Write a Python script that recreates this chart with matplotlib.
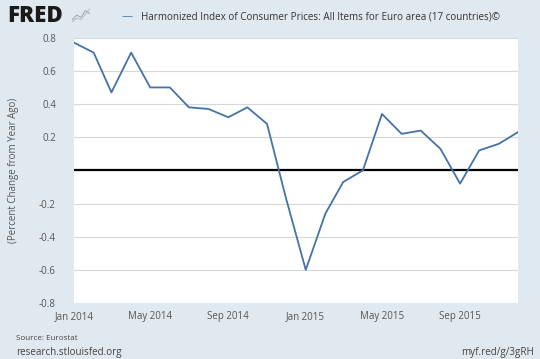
import matplotlib
matplotlib.use("Agg")
import matplotlib.pyplot as plt
import matplotlib.dates as mdates
import pandas as pd

# monthly HICP, percent change from year ago
months = pd.date_range("2014-01-01", "2015-12-01", freq="MS")
hicp = [0.77, 0.71, 0.47, 0.71, 0.50, 0.50, 0.38, 0.37, 0.32, 0.38, 0.28, -0.17,
        -0.60, -0.26, -0.07, 0.00, 0.34, 0.22, 0.24, 0.13, -0.08, 0.12, 0.16, 0.23]

yticks = [-0.8, -0.6, -0.4, -0.2, 0.2, 0.4, 0.6, 0.8]
xtick_months = pd.date_range("2014-01-01", "2015-09-01", freq="4MS")

BG = "#e1e9f0"
LINE = "#4572a7"
TXT = "#555555"

plt.rcParams["font.family"] = ["Open Sans", "DejaVu Sans"]

fig = plt.figure(figsize=(5.4, 3.59), dpi=100, facecolor=BG)
ax = fig.add_axes([0.137, 0.156, 0.822, 0.739])
ax.set_facecolor("white")

ax.plot(months, hicp, color=LINE, lw=1.3, zorder=3)
ax.axhline(0, color="black", lw=1.6, zorder=2)

ax.set_xlim(months[0], months[-1])
ax.set_ylim(-0.8, 0.8)
ax.set_yticks(yticks)
ax.set_yticklabels([f"{v:.1f}" for v in yticks])
ax.set_xticks(xtick_months)
ax.xaxis.set_major_formatter(mdates.DateFormatter("%b %Y"))
ax.grid(axis="y", color="#d8d8d8", lw=0.8)
ax.tick_params(length=0, labelsize=7, colors=TXT)
ax.tick_params(axis="y", pad=13)
ax.tick_params(axis="x", pad=6)
for s in ax.spines.values():
    s.set_visible(False)

ax.set_ylabel("(Percent Change from Year Ago)", fontsize=7, color=TXT, labelpad=14)

# header: logo and legend
fig.text(0.014, 0.955, "FRED", fontsize=16, fontweight="heavy", color="#1a1a1a",
         va="center", ha="left")
icon = fig.add_axes([0.134, 0.937, 0.032, 0.042])
icon.set_facecolor("#d6dde3")
icon.plot([0, 1, 2, 3, 4], [0.2, 0.5, 0.35, 0.8, 0.6], color="#9aa3ab", lw=0.7)
icon.plot([0, 1, 2, 3, 4], [0.05, 0.3, 0.2, 0.55, 0.9], color="#b4bcc3", lw=0.7)
icon.set_xlim(0, 4)
icon.set_ylim(0, 1)
icon.axis("off")
icon.patch.set_visible(True)

fig.text(0.225, 0.953, "\u2014", fontsize=8, color=LINE, va="center", ha="left")
fig.text(0.261, 0.953, "Harmonized Index of Consumer Prices: All Items for Euro area (17 countries)\u00a9",
         fontsize=7.15, color="#333333", va="center", ha="left")

# footer
fig.text(0.029, 0.058, "Source: Eurostat", fontsize=5.8, color="#444444", va="center")
fig.text(0.029, 0.019, "research.stlouisfed.org", fontsize=7.1, color="#444444", va="center")
fig.text(0.988, 0.019, "myf.red/g/3gRH", fontsize=7.1, color="#444444", va="center", ha="right")

fig.savefig("out.png", dpi=100, facecolor=BG)
